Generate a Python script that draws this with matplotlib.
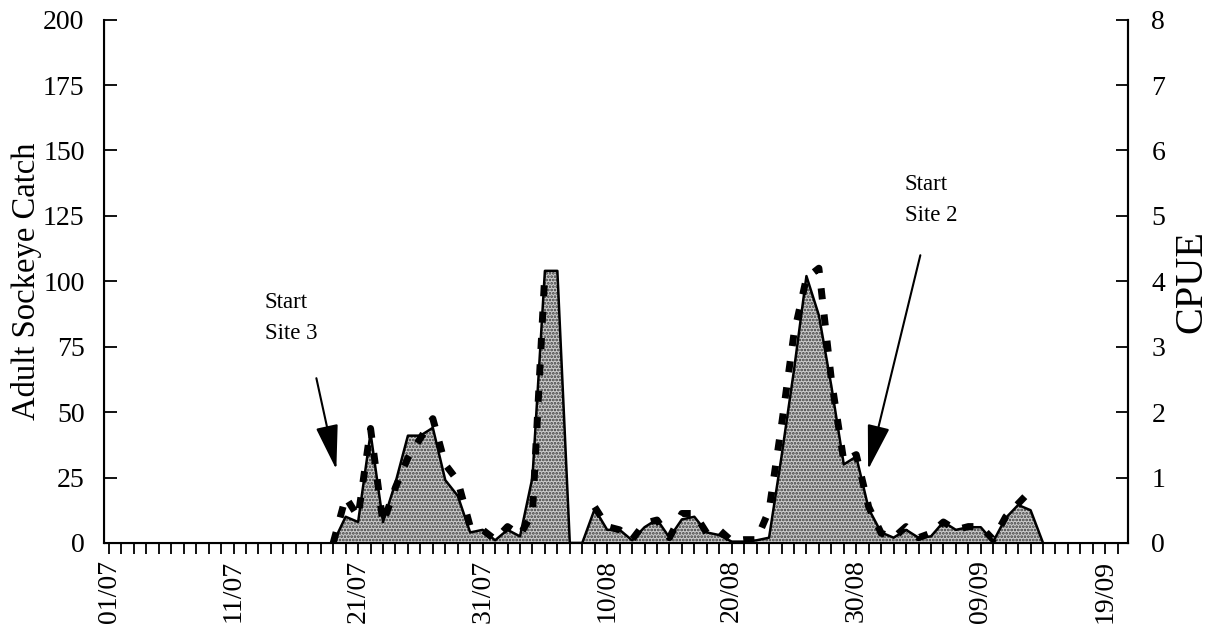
import numpy as np
import matplotlib
matplotlib.use("Agg")
import matplotlib.pyplot as plt
from matplotlib.ticker import MultipleLocator

plt.rcParams['font.family'] = ['Liberation Serif', 'DejaVu Serif']
plt.rcParams['hatch.linewidth'] = 1.3

# day 0 = 01/07
catch_days = np.arange(18, 76)
catch = [0, 10, 8, 42, 8, 23, 41, 41, 44, 24, 18, 4, 5, 1, 5, 2.5, 25, 104, 104, 0,
         0, 13, 5, 5, 1, 6, 9, 2, 9, 10, 4, 3, 0.5, 0.5, 1, 2, 33, 66, 102, 87,
         60, 30, 33, 13, 4, 2, 5, 2, 2.5, 8, 5, 6, 6, 0.5, 9.5, 14.5, 12.5, 0]

cpue_days = np.arange(18, 75)
cpue = [0, 0.7, 0.4, 1.75, 0.3, 0.85, 1.3, 1.6, 1.9, 1.2, 0.95, 0.25, 0.2, 0.05, 0.25,
        0.12, 0.45, 4.15, np.nan, np.nan, np.nan, 0.55, 0.25, 0.2, 0.05, 0.3, 0.35,
        0.08, 0.45, 0.45, 0.15, 0.2, 0.03, 0.05, 0.05, 0.5, 1.8, 3.2, 4.05, 4.2, 2.5,
        1.25, 1.35, 0.55, 0.15, 0.08, 0.25, 0.08, 0.15, 0.32, 0.2, 0.25, 0.25, 0.05,
        0.4, 0.6, 0.8]

tick_days = [0, 10, 20, 30, 40, 50, 60, 70, 80]
tick_labels = ['01/07', '11/07', '21/07', '31/07', '10/08', '20/08', '30/08', '09/09', '19/09']

fig = plt.figure(figsize=(12.1, 6.35), dpi=100)
ax = fig.add_axes([0.086, 0.145, 0.846, 0.824])

ax.fill_between(catch_days, catch, 0, facecolor='#cccccc', edgecolor='#3a3a3a',
                hatch='.....', linewidth=0)
ax.plot(catch_days, catch, color='black', lw=1.8)

ax.set_xlim(-0.4, 81.8)
ax.set_ylim(0, 200)
ax.yaxis.set_major_locator(MultipleLocator(25))
ax.set_xticks(tick_days)
ax.set_xticklabels(tick_labels, rotation=90, fontsize=20)
ax.xaxis.set_minor_locator(MultipleLocator(1))
ax.tick_params(axis='x', which='both', direction='out', length=8, width=1.3, pad=4)
ax.tick_params(axis='y', direction='in', length=9, width=1.3, labelsize=20, pad=14)
ax.set_ylabel('Adult Sockeye Catch', fontsize=23.5, labelpad=1)
ax.spines['top'].set_visible(False)
for s in ['left', 'right', 'bottom']:
    ax.spines[s].set_linewidth(1.5)

ax2 = ax.twinx()
ax2.plot(cpue_days, cpue, color='black', lw=5, dashes=(1.6, 2.2))
ax2.set_ylim(0, 8)
ax2.yaxis.set_major_locator(MultipleLocator(1))
ax2.tick_params(axis='y', direction='in', length=9, width=1.3, labelsize=20, pad=17)
ax2.set_ylabel('CPUE', fontsize=29, labelpad=6)
ax2.spines['top'].set_visible(False)
ax2.spines['right'].set_linewidth(1.5)

arrow = dict(arrowstyle='-|>,head_length=1.4,head_width=0.35', color='black', lw=1.5,
             mutation_scale=20)
ax.annotate('', xy=(18.3, 27), xytext=(16.6, 64), arrowprops=arrow)
ax.annotate('', xy=(60.9, 27), xytext=(65.2, 111), arrowprops=arrow)
ax.text(12.5, 86, 'Start\nSite 3', fontsize=16.5, ha='left', va='center', linespacing=1.6)
ax.text(63.9, 131, 'Start\nSite 2', fontsize=16.5, ha='left', va='center', linespacing=1.6)

fig.savefig('out.png', dpi=100)
